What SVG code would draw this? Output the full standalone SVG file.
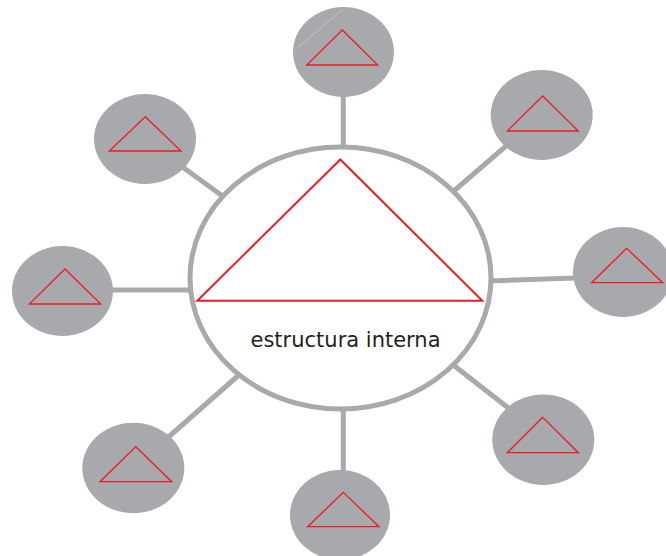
<svg xmlns="http://www.w3.org/2000/svg" width="666" height="556" viewBox="0 0 666 556">
<style>
.conn{stroke:#a7a9ac;stroke-width:5;fill:none}
.sat{fill:#a7a9ac}
.tri{fill:none;stroke:#ed1c24;stroke-width:1.3;stroke-linejoin:miter}
.label{font-family:"DejaVu Sans",Verdana,sans-serif;font-size:21px;fill:#231f20}
</style>
<rect width="666" height="556" fill="#ffffff"/>
<g id="connectors">
<line class="conn" x1="343.3" y1="92" x2="343.3" y2="152"/>
<line class="conn" x1="170" y1="158" x2="228" y2="200"/>
<line class="conn" x1="520" y1="134" x2="448" y2="196"/>
<line class="conn" x1="100" y1="290" x2="195" y2="290"/>
<line class="conn" x1="488" y1="281" x2="590" y2="277.5"/>
<line class="conn" x1="160" y1="444.5" x2="240" y2="374"/>
<line class="conn" x1="452" y1="364" x2="520" y2="417"/>
<line class="conn" x1="343.3" y1="405" x2="343.3" y2="480"/>
</g>
<g id="center">
<ellipse cx="340.5" cy="278" rx="150.5" ry="131" fill="#ffffff" stroke="#a7a9ac" stroke-width="5"/>
<polygon class="tri" style="stroke-width:2" points="340.3,159.5 197.3,300.7 482.3,300.7"/>
<text class="label" x="250.5" y="347">estructura interna</text>
</g>
<g id="sat-top">
<ellipse class="sat" cx="343.5" cy="52" rx="50.5" ry="45"/>
<line x1="343" y1="9" x2="295" y2="50" stroke="#ffffff" stroke-opacity="0.45" stroke-width="0.6"/>
<polygon class="tri" points="342.3,30 306.7,65 377.7,65"/>
</g>
<g id="sat-top-left">
<ellipse class="sat" cx="145" cy="139" rx="51" ry="45"/>
<polygon class="tri" points="145.3,116.7 109.3,151 181,151"/>
</g>
<g id="sat-top-right">
<ellipse class="sat" cx="541.7" cy="115" rx="51" ry="45"/>
<polygon class="tri" points="542.7,96 507.3,131 578.3,131"/>
</g>
<g id="sat-left">
<ellipse class="sat" cx="62.5" cy="291" rx="50.5" ry="45"/>
<polygon class="tri" points="65,269 29.3,304 100.7,304"/>
</g>
<g id="sat-right">
<ellipse class="sat" cx="623" cy="272" rx="50" ry="45"/>
<polygon class="tri" points="626.7,248.3 591.7,282.7 662.7,282.7"/>
</g>
<g id="sat-bottom-left">
<ellipse class="sat" cx="133.3" cy="468" rx="51" ry="45.3"/>
<polygon class="tri" points="135.7,446.7 100,481.7 171.7,481.7"/>
</g>
<g id="sat-bottom-right">
<ellipse class="sat" cx="543.3" cy="439.7" rx="51" ry="45.3"/>
<polygon class="tri" points="542.7,417.3 507.3,452.7 578.3,452.7"/>
</g>
<g id="sat-bottom">
<ellipse class="sat" cx="340" cy="515" rx="50" ry="45"/>
<polygon class="tri" points="343.3,492.3 307.7,526.7 379,526.7"/>
</g>
</svg>
